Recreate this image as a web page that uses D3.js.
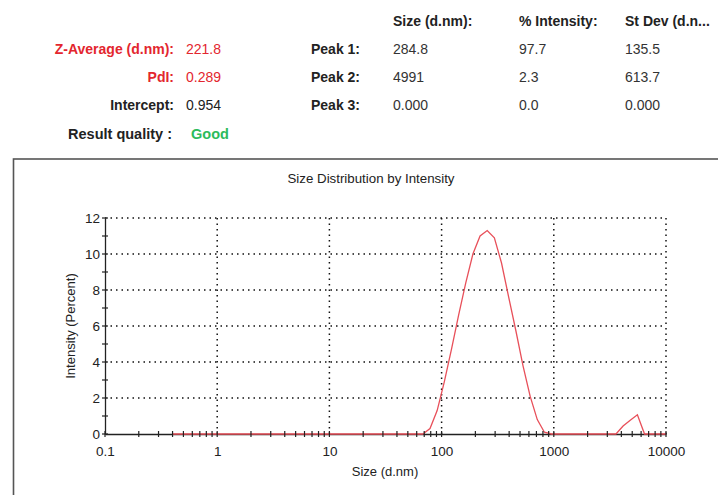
<!DOCTYPE html>
<html>
<head>
<meta charset="utf-8">
<script src="https://cdn.jsdelivr.net/npm/d3@7"></script>
<style>
  body { margin: 0; background: #fff; }
  svg { font-family: "Liberation Sans", Arial, sans-serif; }
</style>
</head>
<body>
<svg id="chart" width="718" height="495"></svg>
<script>
// summary table
var summaryLabels = ["Z-Average (d.nm):", "PdI:", "Intercept:"];
var summaryValues = ["221.8", "0.289", "0.954"];
var summaryColors = ["#e3262e", "#e3262e", "#222"];
var peakLabels = ["Peak 1:", "Peak 2:", "Peak 3:"];
var peakHeaders = ["Size (d.nm):", "% Intensity:", "St Dev (d.n..."];
var peakSize = ["284.8", "4991", "0.000"];
var peakIntensity = ["97.7", "2.3", "0.0"];
var peakStdev = ["135.5", "613.7", "0.000"];

// size bins (d.nm) and intensity (%)
var sizes = [0.4, 0.4632, 0.5365, 0.6213, 0.7195, 0.8332, 0.9649, 1.117, 1.294, 1.499,
  1.736, 2.010, 2.328, 2.696, 3.122, 3.615, 4.187, 4.849, 5.615, 6.503,
  7.531, 8.721, 10.10, 11.70, 13.54, 15.69, 18.17, 21.04, 24.36, 28.21,
  32.67, 37.84, 43.82, 50.75, 58.77, 68.06, 78.82, 91.28, 105.7, 122.4,
  141.8, 164.2, 190.1, 220.2, 255.0, 295.3, 342.0, 396.1, 458.7, 531.2,
  615.1, 712.4, 825.0, 955.4, 1106, 1281, 1484, 1718, 1990, 2305,
  2669, 3091, 3580, 4145, 4801, 5560, 6439, 7456, 8635, 10000];
var intensity = [0, 0, 0, 0, 0, 0, 0, 0, 0, 0,
  0, 0, 0, 0, 0, 0, 0, 0, 0, 0,
  0, 0, 0, 0, 0, 0, 0, 0, 0, 0,
  0, 0, 0, 0, 0, 0, 0.3, 1.3, 2.9, 4.7,
  6.6, 8.4, 10.0, 11.0, 11.3, 10.9, 9.5, 7.6, 5.75, 3.8,
  2.1, 0.8, 0.1, 0, 0, 0, 0, 0, 0, 0,
  0, 0, 0, 0.44, 0.77, 1.07, 0, 0, 0, 0];

var xTicks = [0.1, 1, 10, 100, 1000, 10000];
var yTicks = [0, 2, 4, 6, 8, 10, 12];

var svg = d3.select("#chart");

// ---- header table ----
var rowY = [54, 82, 110];
summaryLabels.forEach(function(d, i) {
  svg.append("text").attr("x", 174).attr("y", rowY[i]).attr("text-anchor", "end")
    .attr("font-size", 14).attr("font-weight", "bold").attr("fill", summaryColors[i]).text(d);
  svg.append("text").attr("x", 186).attr("y", rowY[i])
    .attr("font-size", 14).attr("fill", summaryColors[i]).text(summaryValues[i]);
});
svg.append("text").attr("x", 172).attr("y", 139).attr("text-anchor", "end")
  .attr("font-size", 14.5).attr("font-weight", "bold").attr("fill", "#222").text("Result quality :");
svg.append("text").attr("x", 191).attr("y", 139)
  .attr("font-size", 14.5).attr("font-weight", "bold").attr("fill", "#2dbb5c").text("Good");

var colX = [393, 519, 625];
peakHeaders.forEach(function(d, i) {
  svg.append("text").attr("x", colX[i]).attr("y", 26)
    .attr("font-size", 14).attr("font-weight", "bold").attr("fill", "#222").text(d);
});
peakLabels.forEach(function(d, i) {
  svg.append("text").attr("x", 311).attr("y", rowY[i])
    .attr("font-size", 14).attr("font-weight", "bold").attr("fill", "#222").text(d);
  [peakSize, peakIntensity, peakStdev].forEach(function(col, j) {
    svg.append("text").attr("x", colX[j]).attr("y", rowY[i])
      .attr("font-size", 14).attr("fill", "#333").text(col[i]);
  });
});

// ---- chart frame ----
svg.append("rect").attr("x", 13.5).attr("y", 159).attr("width", 720).attr("height", 360)
  .attr("fill", "none").attr("stroke", "#555").attr("stroke-width", 1.6);

svg.append("text").attr("x", 371).attr("y", 183).attr("text-anchor", "middle")
  .attr("font-size", 13.3).attr("fill", "#222").text("Size Distribution by Intensity");

var x = d3.scaleLog().domain([0.1, 10000]).range([105, 666]);
var y = d3.scaleLinear().domain([0, 12]).range([434, 218]);

// grid
var grid = svg.append("g").attr("stroke", "#111").attr("stroke-width", 1.5)
  .attr("stroke-dasharray", "1.5,4");
grid.selectAll("line.h").data(yTicks.slice(1)).enter().append("line")
  .attr("x1", x(0.1)).attr("x2", x(10000))
  .attr("y1", function(d) { return y(d); }).attr("y2", function(d) { return y(d); });
grid.selectAll("line.v").data(xTicks.slice(1)).enter().append("line")
  .attr("y1", y(0)).attr("y2", y(12))
  .attr("x1", function(d) { return x(d); }).attr("x2", function(d) { return x(d); });

// axes
var xAxis = d3.axisBottom(x).tickValues(xTicks).tickFormat(d3.format("")).tickSize(0).tickPadding(12);
var yAxis = d3.axisLeft(y).tickValues(yTicks).tickSize(0).tickPadding(5);

var gx = svg.append("g").attr("transform", "translate(0," + y(0) + ")").call(xAxis);
var gy = svg.append("g").attr("transform", "translate(" + x(0.1) + ",0)").call(yAxis);
[gx, gy].forEach(function(g) {
  g.select(".domain").attr("stroke", "#222").attr("stroke-width", 1.3);
  g.selectAll("text").attr("font-size", 13.5).attr("fill", "#222")
    .attr("font-family", "Liberation Sans, Arial, sans-serif");
});

// curve
var line = d3.line()
  .x(function(d, i) { return x(sizes[i]); })
  .y(function(d) { return y(d); });
svg.append("path").datum(intensity).attr("d", line)
  .attr("fill", "none").attr("stroke", "#e8505a").attr("stroke-width", 1.3);

// crossing ticks
var xMinor = x.ticks();
svg.append("g").selectAll("line").data(xMinor).enter().append("line")
  .attr("x1", function(d) { return x(d); }).attr("x2", function(d) { return x(d); })
  .attr("y1", y(0) - 3).attr("y2", y(0) + 3)
  .attr("stroke", "#222").attr("stroke-width", 1.2);
var yMinor = d3.range(0, 13);
svg.append("g").selectAll("line").data(yMinor).enter().append("line")
  .attr("y1", function(d) { return y(d); }).attr("y2", function(d) { return y(d); })
  .attr("x1", x(0.1) - 3).attr("x2", x(0.1) + 3)
  .attr("stroke", "#222").attr("stroke-width", 1.2);

// axis titles
svg.append("text").attr("x", 385).attr("y", 476).attr("text-anchor", "middle")
  .attr("font-size", 13).attr("fill", "#222").text("Size (d.nm)");
svg.append("text").attr("transform", "translate(75,326) rotate(-90)").attr("text-anchor", "middle")
  .attr("font-size", 13).attr("fill", "#222").text("Intensity (Percent)");
</script>
</body>
</html>
